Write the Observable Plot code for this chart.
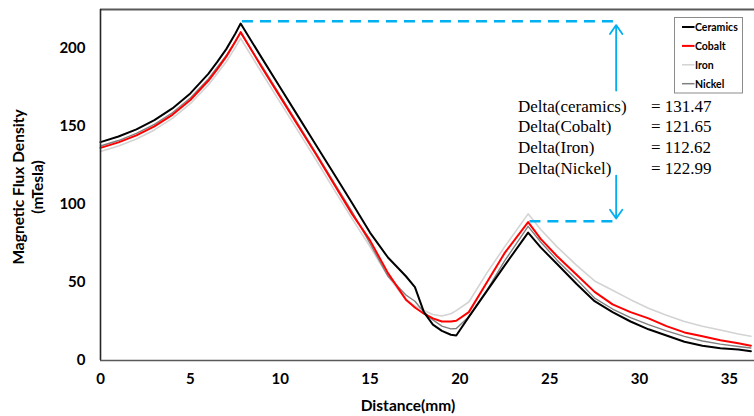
<!DOCTYPE html>
<html>
<head>
<meta charset="utf-8">
<script src="https://cdn.jsdelivr.net/npm/d3@7"></script>
<script src="https://cdn.jsdelivr.net/npm/@observablehq/plot@0.6"></script>
<style>
  html, body { margin: 0; padding: 0; background: #fff; }
  #chart { width: 754px; height: 416px; }
  svg { font-family: Lato, "Open Sans", sans-serif; }
</style>
</head>
<body>
<div id="chart"></div>
<script>
// ---- data ----
const distance = [0, 1, 2, 3, 4, 5, 6, 6.5, 7, 7.5, 7.8, 9, 10, 11, 12, 13, 14, 15, 16, 17, 17.5, 18, 18.5, 19, 19.5, 19.8, 20.5, 21.5, 22.5, 23.8, 24.5, 25.4, 26.5, 27.5, 28.5, 29.5, 30.5, 31.5, 32.5, 33.5, 34.5, 35.5, 36.2];
const ceramics = [140, 143.6, 148.2, 154.1, 161.6, 171.2, 183.7, 191.4, 199.6, 209.5, 216, 193.5, 175, 156.5, 138, 119.5, 101, 82, 66, 54, 47, 31, 23, 19, 16.5, 16, 28, 44.5, 61, 82, 72.5, 62, 49, 38, 31, 25, 20, 16, 12, 9.5, 7.8, 7, 6];
const cobalt   = [136.3, 139.8, 144.3, 150.1, 157.5, 167, 179.3, 186.8, 194.8, 204.3, 210.5, 187.5, 169, 150.5, 132, 113, 94, 77, 56, 39, 34, 30, 27, 25, 25, 25.5, 31, 50, 69, 88.7, 78, 67, 55, 44, 36, 31, 27, 22, 18, 15.5, 13, 11, 9.5];
const iron     = [134, 137.5, 142, 147.8, 155.2, 164.6, 176.6, 183.9, 191.5, 200.6, 206.5, 184, 165.5, 147, 128.5, 109.5, 91, 73, 54, 39, 35, 32, 29.5, 28.5, 30, 32, 37.5, 56, 73, 94, 84, 73, 61, 51, 45, 39, 33.5, 29, 25, 22, 19.5, 17, 15.5];
const nickel   = [137.5, 141, 145.6, 151.4, 158.8, 168.3, 180.5, 188, 195.5, 204.5, 210, 188.5, 170, 151.5, 133, 114, 95.5, 75, 54, 42, 38, 31, 26, 22, 20.3, 20.5, 28, 45, 64, 86, 76, 64.5, 52, 40, 33, 27.5, 23, 19, 15.5, 12.5, 10.5, 9, 8];

const seriesNames  = ["Ceramics", "Cobalt", "Iron", "Nickel"];
const seriesColors = ["#000000", "#ff0000", "#d3d3d3", "#7f7f7f"];
const seriesWidths = [2, 2, 1.6, 1.4];
const drawOrder    = ["Iron", "Nickel", "Cobalt", "Ceramics"];

const xTicks = [0, 5, 10, 15, 20, 25, 30, 35];
const yTicks = [0, 50, 100, 150, 200];

const deltaLabels = ["Delta(ceramics)", "Delta(Cobalt)", "Delta(Iron)", "Delta(Nickel)"];
const deltaValues = ["= 131.47", "= 121.65", "= 112.62", "= 122.99"];

// annotation geometry (data units)
const annotX = 28.7;
const topLevel = 217.5;
const bottomLevel = 89.3;
const upArrow = [{x1: annotX, y1: 173, x2: annotX, y2: 215}];
const downArrow = [{x1: annotX, y1: 118.5, x2: annotX, y2: 91}];
const dashes = [
  {x1: 7.9, x2: annotX, y: topLevel},
  {x1: 23.9, x2: annotX, y: bottomLevel}
];

// ---- build tidy table ----
const valuesBySeries = {Ceramics: ceramics, Cobalt: cobalt, Iron: iron, Nickel: nickel};
const rows = [];
for (const name of drawOrder) {
  valuesBySeries[name].forEach((v, i) => rows.push({series: name, distance: distance[i], value: v}));
}
const colorOf = Object.fromEntries(seriesNames.map((n, i) => [n, seriesColors[i]]));
const widthOf = Object.fromEntries(seriesNames.map((n, i) => [n, seriesWidths[i]]));

const blue = "#00b0f0";

const plot = Plot.plot({
  width: 754,
  height: 416,
  marginLeft: 100,
  marginRight: 0,
  marginTop: 9,
  marginBottom: 56,
  style: {fontFamily: "Lato, 'Open Sans', sans-serif", background: "#fff"},
  x: {domain: [0, 36.4], ticks: xTicks, label: null},
  y: {domain: [0, 225], ticks: yTicks, label: null},
  marks: [
    Plot.ruleY([225], {stroke: "#595959", strokeWidth: 2}),
    ...drawOrder.map(name => Plot.line(rows.filter(d => d.series === name), {
      x: "distance", y: "value", stroke: colorOf[name], strokeWidth: widthOf[name], curve: "linear"
    })),
    Plot.ruleY(dashes, {y: "y", x1: "x1", x2: "x2", stroke: blue, strokeWidth: 2.5, strokeDasharray: "11,7"}),
    Plot.arrow(upArrow, {x1: "x1", y1: "y1", x2: "x2", y2: "y2", stroke: blue, strokeWidth: 1.8, headLength: 9, headAngle: 70}),
    Plot.arrow(downArrow, {x1: "x1", y1: "y1", x2: "x2", y2: "y2", stroke: blue, strokeWidth: 1.8, headLength: 9, headAngle: 70}),
    Plot.ruleX([0], {stroke: "#262626", strokeWidth: 1.6}),
    Plot.ruleY([0], {stroke: "#595959", strokeWidth: 1.6}),
    Plot.axisX({ticks: xTicks, tickSize: 0, tickPadding: 13, fontSize: 15, fontWeight: "bold", fill: "#000", label: null}),
    Plot.axisY({ticks: yTicks, tickSize: 0, tickPadding: 15, fontSize: 15, fontWeight: "bold", fill: "#000", label: null})
  ]
});

document.getElementById("chart").appendChild(plot);
const svg = d3.select(plot);

// axis titles
svg.append("text")
  .attr("x", 408).attr("y", 405)
  .attr("text-anchor", "middle").attr("dominant-baseline", "central")
  .attr("font-family", "Lato, sans-serif").attr("font-weight", "bold").attr("font-size", 15.5)
  .attr("fill", "#000").text("Distance(mm)");
const yTitle = svg.append("g").attr("transform", "translate(18,187) rotate(-90)");
yTitle.append("text").attr("x", 0).attr("y", 0)
  .attr("text-anchor", "middle").attr("dominant-baseline", "central")
  .attr("font-family", "Lato, sans-serif").attr("font-weight", "bold").attr("font-size", 15.5)
  .attr("fill", "#000").text("Magnetic Flux Density");
yTitle.append("text").attr("x", 0).attr("y", 19)
  .attr("text-anchor", "middle").attr("dominant-baseline", "central")
  .attr("font-family", "Lato, sans-serif").attr("font-weight", "bold").attr("font-size", 15.5)
  .attr("fill", "#000").text("(mTesla)");

// delta annotation text
const deltaG = svg.append("g").attr("font-family", "'Liberation Serif', 'DejaVu Serif', serif").attr("font-size", 17).attr("fill", "#000").attr("text-anchor", "start");
deltaLabels.forEach((t, i) => {
  const yb = 111.5 + i * 20.7;
  deltaG.append("text").attr("x", 518).attr("y", yb).attr("text-anchor", "start").text(t);
  deltaG.append("text").attr("x", 651).attr("y", yb).attr("text-anchor", "start").text(deltaValues[i]);
});

// legend
const lg = svg.append("g");
lg.append("rect").attr("x", 674.5).attr("y", 17.5).attr("width", 68).attr("height", 75.5)
  .attr("fill", "#fff").attr("stroke", "#8c8c8c").attr("stroke-width", 1);
seriesNames.forEach((n, i) => {
  const yy = 27 + i * 18.9;
  lg.append("line").attr("x1", 682).attr("x2", 694.5).attr("y1", yy).attr("y2", yy)
    .attr("stroke", seriesColors[i]).attr("stroke-width", i < 2 ? 2 : 1.5);
  lg.append("text").attr("x", 695).attr("y", yy).attr("dominant-baseline", "central")
    .attr("text-anchor", "start")
    .attr("font-family", "Lato, sans-serif").attr("font-weight", "bold").attr("font-size", 10.5)
    .attr("fill", "#000").text(n);
});
</script>
</body>
</html>
